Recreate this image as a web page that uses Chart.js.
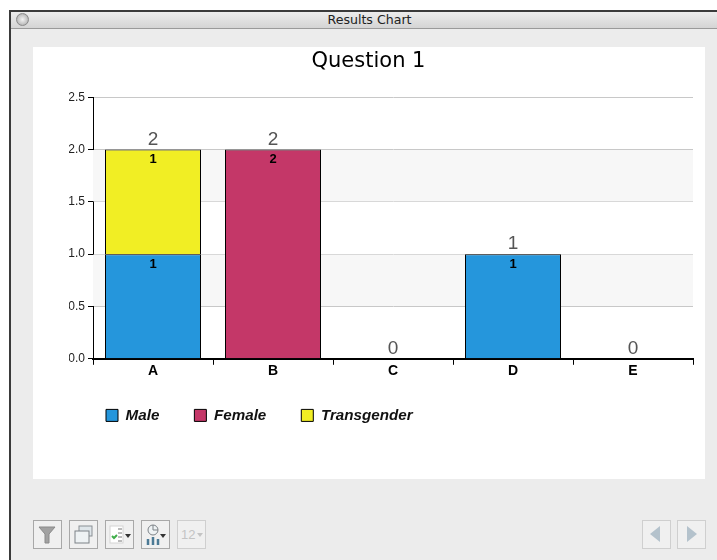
<!DOCTYPE html>
<html><head><meta charset="utf-8">
<script src="https://cdn.jsdelivr.net/npm/chart.js@4"></script>
<style>
html,body{margin:0;padding:0;width:717px;height:560px;overflow:hidden;background:#fff}
#win{position:absolute;left:9px;top:10px;width:720px;height:560px;background:#ececec;border-left:2px solid #3a3a3a;border-top:2px solid #3a3a3a;box-sizing:border-box}
#bar{position:absolute;left:0;top:0;right:0;height:16px;background:linear-gradient(#ececec,#d4d4d4);border-bottom:1px solid #9a9a9a;}
#ttl{position:absolute;left:11px;width:717px;top:12px;height:17px;text-align:center;font:12.6px/16px "DejaVu Sans",sans-serif;color:#222}
#dot{position:absolute;left:16px;top:13px;width:13px;height:13px;border-radius:50%;background:radial-gradient(#f2f2f2,#c4c4c4 60%,#8f8f8f);border:1px solid #8a8a8a;box-sizing:border-box}
#panel{position:absolute;left:33px;top:47px;width:672px;height:432px;background:#fff}
canvas{display:block}
.btn{position:absolute;top:520px;width:29px;height:29px;box-sizing:border-box;border:1.5px solid #a8a8a8;background:#f0f0f0}
.btn.off{border-color:#cfcfcf}
.btn svg{position:absolute;left:0;top:0}
.num{position:absolute;left:3px;top:6px;font:13px "Liberation Sans",sans-serif;color:#c4c4c4}
</style></head>
<body>
<div id="win"><div id="bar"></div></div>
<div id="ttl">Results Chart</div>
<div id="dot"></div>
<div id="panel"><canvas id="c" width="672" height="432"></canvas></div>

<div class="btn" style="left:33px"><svg width="26" height="26"><path d="M5 6h16l-6 7v9h-4V13z" fill="#a2a2a2" stroke="#8a8a8a"/></svg></div>
<div class="btn" style="left:69px"><svg width="26" height="26"><rect x="9" y="5" width="13" height="10" fill="#dfe6ea" stroke="#8a8f94"/><rect x="5" y="10" width="14" height="12" fill="#eef2f4" stroke="#7d8287"/></svg></div>
<div class="btn" style="left:105px"><svg width="26" height="26"><rect x="4" y="5" width="13" height="17" fill="#fff" stroke="#d4d4d4"/><path d="M6 15l2 2 3-3" stroke="#3fae49" stroke-width="2" fill="none"/><path d="M12 8h4M12 12h4M12 16h4M12 20h4" stroke="#777"/><path d="M19 13h6l-3 4z" fill="#333"/></svg></div>
<div class="btn" style="left:141px"><svg width="26" height="26"><circle cx="11" cy="9" r="5" fill="#eef2f4" stroke="#7d8287"/><path d="M11 4v5h5" fill="none" stroke="#7d8287"/><path d="M6 24v-6M11 24v-8M16 24v-6" stroke="#4c7a95" stroke-width="2.5"/><path d="M18 13h6l-3 4z" fill="#333"/></svg></div>
<div class="btn off" style="left:177px"><span class="num">12</span><svg width="26" height="26"><path d="M19 12h6l-3 4z" fill="#c4c4c4"/></svg></div>
<div class="btn off" style="left:642px"><svg width="26" height="26"><path d="M17 5v16L7 13z" fill="#b4c2cc"/></svg></div>
<div class="btn off" style="left:677px"><svg width="26" height="26"><path d="M9 5v16l10-8z" fill="#b4c2cc"/></svg></div>

<script>
const categories = ["A","B","C","D","E"];
const maleValues = [1,0,0,1,0];
const femaleValues = [0,2,0,0,0];
const transgenderValues = [1,0,0,0,0];
const totals = [2,2,0,1,0];
const yTicks = [0,0.5,1,1.5,2,2.5];
const bands = [[0.5,1],[1.5,2]];

const fontName = '"Liberation Sans", Arial, sans-serif';

const overlay = {
  id:'overlay',
  afterLayout(chart){
    chart.titleBlock.left -= 12.5;
    chart.titleBlock.right -= 12.5;
    chart.legend.top -= 10;
    chart.legend.bottom -= 10;
    chart.legend.left += 2;
    chart.legend.right += 2;
  },
  beforeDatasetsDraw(chart){
    const {ctx,chartArea:a,scales:{y}} = chart;
    ctx.save();
    ctx.fillStyle='#f7f7f7';
    bands.forEach(([lo,hi])=>{
      const t=y.getPixelForValue(hi), b=y.getPixelForValue(lo);
      ctx.fillRect(a.left,t+0.5,a.right-a.left,b-t-1);
    });
    ctx.restore();
  },
  afterDatasetsDraw(chart){
    const {ctx,scales:{x,y}} = chart;
    ctx.save();
    ctx.textAlign='center';
    chart.data.datasets.forEach((ds,di)=>{
      const meta=chart.getDatasetMeta(di);
      ds.data.forEach((v,i)=>{
        if(!v) return;
        const el=meta.data[i];
        ctx.font='bold 13px '+fontName;
        ctx.fillStyle='#000';
        ctx.textBaseline='top';
        ctx.fillText(String(v),el.x,el.y+3.5);
      });
    });
    ctx.font='19px '+fontName;
    ctx.fillStyle='#555';
    ctx.textBaseline='alphabetic';
    totals.forEach((t,i)=>{
      ctx.fillText(String(t),x.getPixelForValue(i),y.getPixelForValue(t)-5);
    });
    ctx.restore();
  }
};

const barStyle = {borderColor:'#000',borderWidth:1,barPercentage:0.8,categoryPercentage:1};

new Chart(document.getElementById('c'),{
  type:'bar',
  plugins:[overlay],
  data:{labels:categories,datasets:[
    {label:'Male',data:maleValues,backgroundColor:'#2596dc',...barStyle},
    {label:'Female',data:femaleValues,backgroundColor:'#c43768',...barStyle},
    {label:'Transgender',data:transgenderValues,backgroundColor:'#f1ee24',...barStyle}
  ]},
  options:{
    responsive:false,animation:false,
    layout:{padding:{left:36,right:12,top:0,bottom:36}},
    plugins:{
      title:{display:true,text:'Question 1',color:'#000',font:{family:'"DejaVu Sans",sans-serif',size:21,weight:'normal'},padding:{top:2,bottom:23}},
      legend:{position:'bottom',align:'start',
        labels:{boxWidth:12,boxHeight:12,padding:35,color:'#111',font:{family:fontName,size:15.2,weight:'bold',style:'italic'},
          generateLabels(chart){return chart.data.datasets.map((d,i)=>({text:d.label,fillStyle:d.backgroundColor,strokeStyle:'#000',lineWidth:1,datasetIndex:i,fontColor:'#111'}));}}},
      tooltip:{enabled:false}
    },
    scales:{
      x:{stacked:true,
        afterFit(s){s.height=24;},
        border:{color:'#000',width:2},
        grid:{drawOnChartArea:false,drawTicks:true,tickLength:6,tickColor:'#000',offset:true},
        ticks:{color:'#000',padding:-2,font:{family:fontName,size:14,weight:'bold'},maxRotation:0}},
      y:{stacked:true,min:0,max:2.5,
        afterFit(s){s.width=24;},
        border:{color:'#000',width:1},
        afterBuildTicks(s){s.ticks=yTicks.map(v=>({value:v}));},
        grid:{color:'#c8c8c8',tickColor:'#000',tickLength:5},
        ticks:{color:'#222',padding:3,font:{family:fontName,size:12},callback:v=>v.toFixed(1)}}
    }
  }
});
</script>
</body></html>
